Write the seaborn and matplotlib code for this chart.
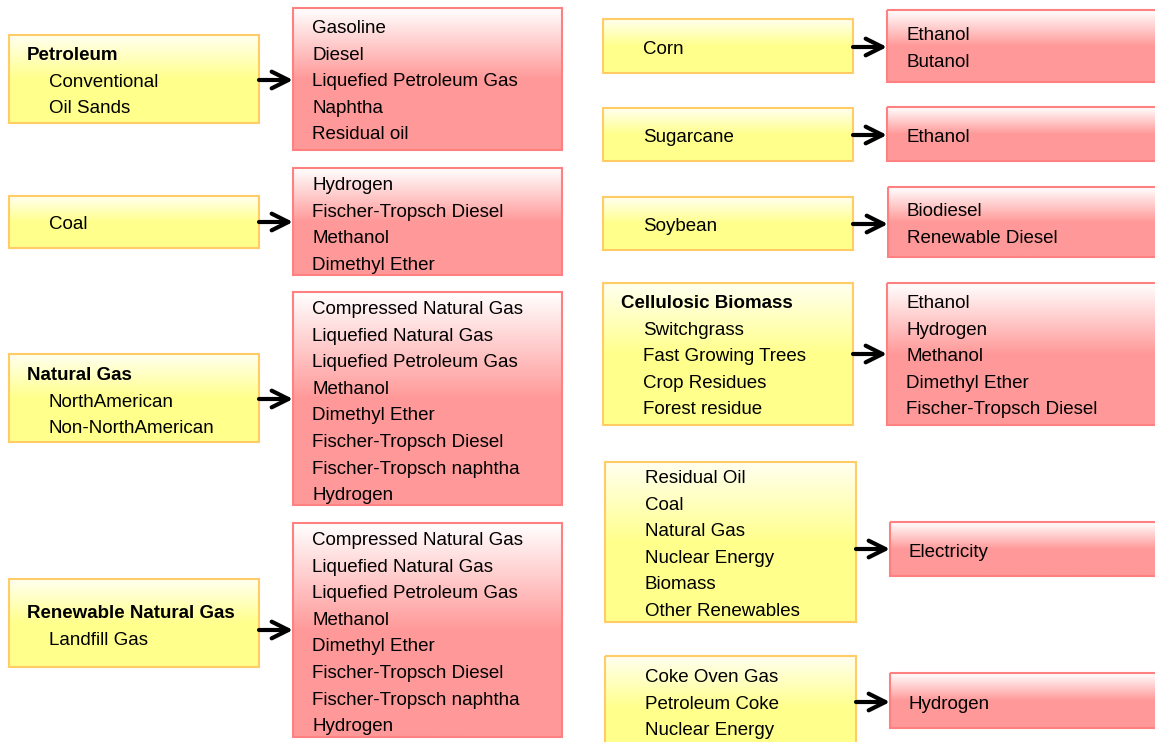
import numpy as np
import seaborn as sns
import matplotlib.pyplot as plt
from matplotlib.patches import Rectangle
from matplotlib.colors import to_rgb

sns.set_style("white")
plt.rcParams['font.family'] = ['Liberation Sans Narrow', 'Liberation Sans', 'DejaVu Sans']

# feedstock boxes: bold header (or None) and indented items
src_headers = ["Petroleum", None, "Natural Gas", "Renewable Natural Gas",
               None, None, None, "Cellulosic Biomass", None, None]
src_items = [
    ["Conventional", "Oil Sands"],
    ["Coal"],
    ["NorthAmerican", "Non-NorthAmerican"],
    ["Landfill Gas"],
    ["Corn"],
    ["Sugarcane"],
    ["Soybean"],
    ["Switchgrass", "Fast Growing Trees", "Crop Residues", "Forest residue"],
    ["Residual Oil", "Coal", "Natural Gas", "Nuclear Energy", "Biomass", "Other Renewables"],
    ["Coke Oven Gas", "Petroleum Coke", "Nuclear Energy"],
]
# fuel boxes
fuel_items = [
    ["Gasoline", "Diesel", "Liquefied Petroleum Gas", "Naphtha", "Residual oil"],
    ["Hydrogen", "Fischer-Tropsch Diesel", "Methanol", "Dimethyl Ether"],
    ["Compressed Natural Gas", "Liquefied Natural Gas", "Liquefied Petroleum Gas", "Methanol",
     "Dimethyl Ether", "Fischer-Tropsch Diesel", "Fischer-Tropsch naphtha", "Hydrogen"],
    ["Compressed Natural Gas", "Liquefied Natural Gas", "Liquefied Petroleum Gas", "Methanol",
     "Dimethyl Ether", "Fischer-Tropsch Diesel", "Fischer-Tropsch naphtha", "Hydrogen"],
    ["Ethanol", "Butanol"],
    ["Ethanol"],
    ["Biodiesel", "Renewable Diesel"],
    ["Ethanol", "Hydrogen", "Methanol", "Dimethyl Ether", "Fischer-Tropsch Diesel"],
    ["Electricity"],
    ["Hydrogen"],
]

# layout in pixels: (x0, y0, x1, y1, first text line y)
src_boxes = [
    (9, 35, 259, 123, 53), (9, 196, 259, 248, 222), (9, 354, 259, 442, 373),
    (9, 579, 259, 667, 611), (603, 19, 853, 73, 47), (603, 108, 853, 161, 135),
    (603, 197, 853, 250, 224), (603, 283, 853, 425, 301), (605, 462, 856, 622, 476),
    (605, 656, 856, 760, 675),
]
fuel_boxes = [
    (293, 8, 562, 150, 26), (293, 168, 562, 275, 183), (293, 292, 562, 505, 307),
    (293, 523, 562, 737, 538), (887, 10, 1160, 82, 33), (887, 107, 1160, 161, 135),
    (888, 187, 1160, 257, 209), (887, 283, 1160, 425, 301), (890, 522, 1160, 576, 550),
    (890, 673, 1160, 728, 702),
]
arrow_y = [80, 222, 399, 630, 47, 135, 224, 354, 549, 702]

LINE = 26.6
FS = 13.5
DY = 2.5


def gradient_box(ax, x0, y0, x1, y1, top, bottom, edge):
    n = 200
    t = np.clip(np.linspace(0, 1, n) / 0.5, 0, 1)[:, None]
    c0, c1 = np.array(to_rgb(top)), np.array(to_rgb(bottom))
    img = (c0 * (1 - t) + c1 * t)[:, None, :]
    ax.imshow(img, extent=(x0, x1, y1, y0), origin='upper', aspect='auto',
              interpolation='bilinear', zorder=1)
    ax.add_patch(Rectangle((x0, y0), x1 - x0, y1 - y0, fill=False,
                           edgecolor=edge, lw=1.5, zorder=2))


fig = plt.figure(figsize=(11.55, 7.42), dpi=100)
ax = fig.add_axes([0, 0, 1, 1])
ax.set_xlim(0, 1155)
ax.set_ylim(742, 0)
ax.axis('off')

for hdr, items, (x0, y0, x1, y1, ty) in zip(src_headers, src_items, src_boxes):
    gradient_box(ax, x0, y0, x1, y1, '#FFFFF0', '#FFFF8C', '#FFCC66')
    lines = ([(hdr, True)] if hdr else []) + [(s, False) for s in items]
    for i, (s, bold) in enumerate(lines):
        ax.text(x0 + (18 if bold else 40), ty + DY + i * LINE, s, fontsize=FS, color='black',
                fontweight='bold' if bold else 'normal', va='center', ha='left', zorder=3)

for items, (x0, y0, x1, y1, ty) in zip(fuel_items, fuel_boxes):
    gradient_box(ax, x0, y0, x1, y1, '#FFFFFF', '#FF9999', '#FF8080')
    for i, s in enumerate(items):
        ax.text(x0 + 19, ty + DY + i * LINE, s, fontsize=FS, color='black',
                va='center', ha='left', zorder=3)

for (sx0, sy0, sx1, sy1, _), (fx0, *_r), y in zip(src_boxes, fuel_boxes, arrow_y):
    ax.annotate('', xy=(fx0, y), xytext=(sx1, y),
                arrowprops=dict(arrowstyle='->', lw=3, color='black',
                                mutation_scale=30, shrinkA=0, shrinkB=0), zorder=4)

fig.savefig('out.png', dpi=100)
